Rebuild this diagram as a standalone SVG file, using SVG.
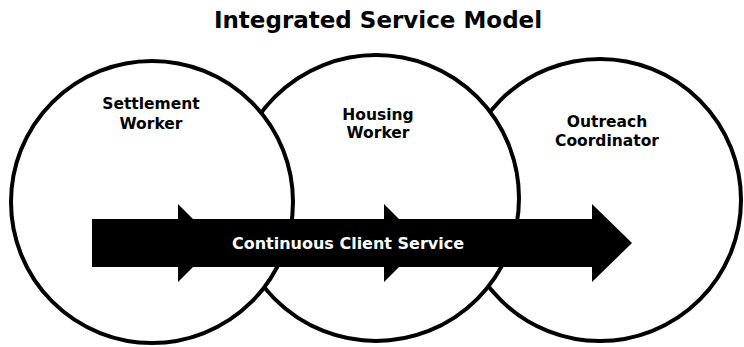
<svg xmlns="http://www.w3.org/2000/svg" width="744" height="347" viewBox="0 0 744 347">
<style>
.c{fill:#fff;stroke:#000;stroke-width:4}
.t{font-family:"DejaVu Sans","Liberation Sans",sans-serif;font-weight:bold;text-anchor:middle}
.lbl{font-size:15.5px;fill:#000}
</style>
<rect width="744" height="347" fill="#fff"/>
<text class="t" x="378" y="28" font-size="23">Integrated Service Model</text>
<g id="outreach">
<circle class="c" cx="600" cy="200" r="141"/>
<text class="t lbl" x="607" y="127">Outreach</text>
<text class="t lbl" x="607" y="146">Coordinator</text>
</g>
<g id="housing">
<circle class="c" cx="376" cy="198" r="143"/>
<text class="t lbl" x="378" y="120">Housing</text>
<text class="t lbl" x="378" y="138">Worker</text>
</g>
<g id="settlement">
<circle class="c" cx="152" cy="202" r="141"/>
<text class="t lbl" x="151" y="109">Settlement</text>
<text class="t lbl" x="151" y="129">Worker</text>
</g>
<g id="connectors">
<path d="M92,219 L178,219 L178,204 L193,219 L384,219 L384,204 L399,219 L592,219 L592,204 L632,243 L592,282 L592,267 L399,267 L384,282 L384,267 L193,267 L178,282 L178,267 L92,267 Z" fill="#000"/>
<text class="t" x="348" y="249" font-size="16" fill="#fff">Continuous Client Service</text>
</g>
</svg>
